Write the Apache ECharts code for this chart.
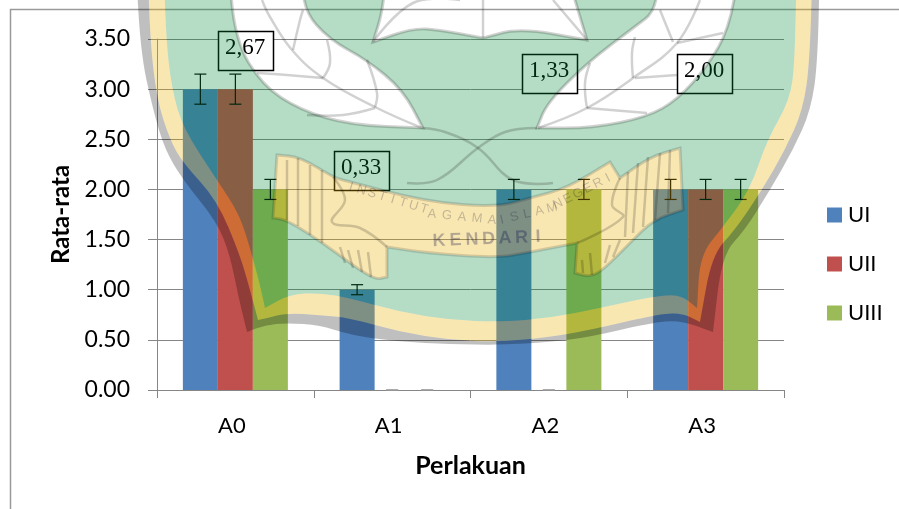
<!DOCTYPE html>
<html>
<head>
<meta charset="utf-8">
<title>Rata-rata</title>
<style>
  html, body { margin: 0; padding: 0; background: #fff; }
  #chart { width: 899px; height: 509px; }
</style>
<script src="https://cdn.jsdelivr.net/npm/echarts@6/dist/echarts.min.js"></script>
</head>
<body>
<div id="chart"></div>
<script>
const categories = ['A0', 'A1', 'A2', 'A3']
const valuesUI = [3, 1, 2, 2]
const valuesUII = [3, 0, 0, 2]
const valuesUIII = [2, 0, 2, 2]
const errorsUI = [0.15, 0.05, 0.1, 0.1]
const errorsUII = [0.15, 0, 0, 0.1]
const errorsUIII = [0.1, 0, 0.1, 0.1]
const seriesNames = ['UI', 'UII', 'UIII']
const noteLabels = ['2,67', '0,33', '1,33', '2,00']

const allValues = [valuesUI, valuesUII, valuesUIII]
const allErrors = [errorsUI, errorsUII, errorsUIII]
const Colors = ['#4F81BD', '#C0504D', '#9BBB59']
const axisGrey = '#868686'

// kotak angka di atas grafik
const notePos = [[218, 31], [334, 151], [522, 54], [677, 54]]
const noteElements = []
noteLabels.forEach((txt, i) => {
  noteElements.push({
    type: 'rect',
    z: 50,
    shape: { x: notePos[i][0] + 0.5, y: notePos[i][1] + 0.5, width: 55, height: 39 },
    style: { fill: '#fff', stroke: '#000', lineWidth: 1.5 }
  })
  noteElements.push({
    type: 'text',
    z: 51,
    x: notePos[i][0] + 27,
    y: notePos[i][1] + 17,
    style: { text: txt, fill: '#000', font: '23px "Liberation Serif"', align: 'center', verticalAlign: 'middle' }
  })
})

// watermark logo: garis tepi dari kiri atas, ke bawah, lalu naik ke kanan
// titik ketiga = 1 artinya sudut tajam
const edgeGreen = [[163, -60, 1], [166, 40], [172, 90], [183, 128], [217, 180], [240, 215], [252, 255], [260, 285], [265, 308, 1],
  [290, 294], [320, 293], [350, 298], [400, 312], [450, 320], [500, 322], [550, 318], [600, 308], [650, 297], [680, 294], [697, 308, 1],
  [700, 255], [723, 227], [750, 190], [767, 140], [790, 100], [795, 60], [797, -60, 1]]
const edgeYellow = [[147, -60, 1], [150, 40], [157, 100], [170, 140], [183, 163], [217, 200], [240, 255], [250, 290], [258, 320, 1],
  [267, 318], [287, 313], [320, 315], [350, 318], [400, 332], [450, 340], [500, 342], [550, 337], [590, 330], [650, 316], [680, 312], [700, 322, 1],
  [712, 255], [735, 230], [762, 190], [785, 150], [803, 110], [810, 60], [813, -60, 1]]
const edgeRim = [[135, -60, 1], [140, 50], [153, 110], [165, 150], [183, 180], [217, 222], [230, 255], [238, 295], [247, 332, 1],
  [265, 325], [287, 323], [320, 325], [350, 335], [400, 342], [450, 344], [500, 345], [550, 342], [590, 337], [650, 323], [680, 320], [713, 332, 1],
  [722, 255], [745, 230], [770, 190], [793, 150], [811, 110], [818, 60], [820, -60, 1]]
const leafLeft = [[228, -40, 1], [235, 40], [262, 85], [300, 110], [350, 125], [423, 128, 1], [403, 90], [367, 60], [330, 40], [303, 10], [302, -40, 1]]
const leafTop = [[373, 42, 1], [383, 10], [387, -40, 1], [563, -40, 1], [580, 17], [587, 40, 1], [520, 28], [483, 38, 1], [440, 30], [413, 28]]
const leafRight = [[537, 128, 1], [547, 103], [587, 63], [633, 28], [657, 10], [658, -40, 1], [740, -40, 1], [730, 27], [707, 67], [677, 100], [647, 117], [593, 128]]
const banner = [[277, 155, 1], [300, 157], [333, 177], [343, 180, 1], [427, 202], [497, 207], [530, 198], [567, 188], [610, 162, 1], [620, 178, 1], [650, 157], [680, 148, 1],
  [683, 210, 1], [653, 220], [630, 243], [603, 270], [590, 277], [575, 273, 1], [577, 243, 1], [530, 252], [497, 258], [427, 253], [387, 247, 1], [387, 277, 1], [373, 280], [323, 243], [287, 220], [273, 218, 1]]
const veins = [
  [[422, 128], [375, 107], [323, 78], [292, 50], [270, 17], [262, 0]],
  [[375, 107], [377, 93], [367, 60]],
  [[375, 108], [343, 115], [307, 115]],
  [[323, 78], [330, 63], [327, 40]],
  [[323, 78], [287, 75], [257, 73]],
  [[293, 50], [300, 20], [303, 10]],
  [[538, 128], [587, 108], [633, 78], [677, 43], [700, 0]],
  [[587, 108], [585, 83], [590, 63]],
  [[587, 108], [647, 113]],
  [[633, 78], [632, 53], [635, 37]],
  [[635, 78], [677, 75]],
  [[677, 43], [723, 33]],
  [[660, 10], [673, 42]],
  [[483, 0], [483, 38]],
  [[587, 40], [553, 0]],
  [[373, 42], [413, 3], [460, 0]],
  [[422, 128], [445, 132], [478, 148], [513, 180], [553, 183]],
  [[537, 128], [505, 132], [478, 148], [437, 180], [407, 183]],
  [[287, 160], [287, 220]], [[298, 158], [298, 226]], [[310, 165], [310, 235]], [[322, 170], [322, 243]],
  [[660, 153], [655, 220]], [[670, 150], [668, 213]], [[648, 157], [643, 227]], [[638, 163], [633, 233]], [[628, 172], [625, 237]],
  [[340, 247], [345, 263]], [[348, 250], [353, 268]], [[358, 250], [362, 272]], [[368, 252], [371, 277]],
  [[590, 253], [592, 275]], [[582, 260], [583, 273]], [[610, 245], [605, 263]], [[620, 240], [613, 257]],
  [[333, 177], [345, 200], [332, 222], [360, 228], [387, 247]],
  [[620, 178], [612, 205], [623, 217], [577, 243]]
]

// path tertutup yang dihaluskan
function closedPath (pts) {
  const mid = (a, b) => [(a[0] + b[0]) / 2, (a[1] + b[1]) / 2]
  const list = []
  pts.forEach(p => {
    list.push(p)
    if (p[2]) list.push(p)
  })
  const start = mid(list[list.length - 1], list[0])
  let d = 'M' + start[0] + ' ' + start[1]
  list.forEach((p, i) => {
    const m = mid(p, list[(i + 1) % list.length])
    d += 'Q' + p[0] + ' ' + p[1] + ' ' + m[0] + ' ' + m[1]
  })
  return d + 'Z'
}
function band (a, b) {
  return closedPath(a.concat(b.slice().reverse()))
}
function logoPath (d, fill, stroke) {
  return {
    type: 'path',
    shape: { pathData: d },
    style: { fill: fill || 'none', stroke: stroke || 'none', lineWidth: 3 }
  }
}
// tulisan melengkung, per huruf
function curvedWord (word, x0, y0, x1, y1, size, weight, color) {
  const angle = Math.atan2(y0 - y1, x1 - x0)
  return word.split('').map((c, i) => {
    const t = word.length > 1 ? i / (word.length - 1) : 0
    return {
      type: 'text',
      x: x0 + (x1 - x0) * t,
      y: y0 + (y1 - y0) * t,
      rotation: angle,
      style: {
        text: c,
        fill: color,
        font: weight + ' ' + size + 'px "Liberation Sans"',
        align: 'center',
        verticalAlign: 'middle'
      }
    }
  })
}

const holes = closedPath(leafLeft.slice().reverse()) + closedPath(leafTop) + closedPath(leafRight) + closedPath(banner)
const logoChildren = [
  logoPath(band(edgeGreen, edgeYellow), 'rgba(235,175,0,0.3)'),
  logoPath(band(edgeYellow, edgeRim), 'rgba(0,0,0,0.25)'),
  logoPath(closedPath(edgeGreen) + holes, 'rgba(0,134,50,0.29)'),
  logoPath(closedPath(banner), 'rgba(235,175,0,0.3)', 'rgba(0,0,0,0.14)'),
  logoPath(closedPath(leafLeft), null, 'rgba(0,0,0,0.18)'),
  logoPath(closedPath(leafTop), null, 'rgba(0,0,0,0.18)'),
  logoPath(closedPath(leafRight), null, 'rgba(0,0,0,0.18)')
].concat(veins.map(v => ({
  type: 'polyline',
  shape: { points: v, smooth: 0.4 },
  style: { fill: 'none', stroke: 'rgba(0,0,0,0.18)', lineWidth: 2.5 }
})),
curvedWord('INSTITUT', 351, 187, 424, 209, 13, 'normal', 'rgba(0,0,40,0.22)'),
curvedWord('AGAMA', 432, 214, 492, 220, 13, 'normal', 'rgba(0,0,40,0.22)'),
curvedWord('ISLAM', 502, 220, 552, 208, 13, 'normal', 'rgba(0,0,40,0.22)'),
curvedWord('NEGERI', 558, 204, 608, 178, 13, 'normal', 'rgba(0,0,40,0.22)'),
curvedWord('KENDARI', 439, 241, 538, 237, 18, 'bold', 'rgba(0,0,60,0.28)'))

// bingkai luar
const frame = {
  type: 'polyline',
  z: 1,
  shape: { points: [[10.5, 509], [10.5, 9.5], [899, 9.5]] },
  style: { fill: null, stroke: '#9a9a9a', lineWidth: 1.5 }
}

const barSeries = seriesNames.map((name, i) => ({
  name: name,
  type: 'bar',
  data: allValues[i],
  barGap: 0,
  barCategoryGap: '33%',
  itemStyle: { color: Colors[i] }
}))

// error bar digambar lewat custom series
const errorSeries = seriesNames.map((name, s) => ({
  name: name + ' error',
  type: 'custom',
  z: 5,
  silent: true,
  data: categories.map((c, i) => [i, allValues[s][i], allErrors[s][i]]),
  renderItem: (params, api) => {
    const idx = api.value(0)
    const val = api.value(1)
    const err = api.value(2)
    const barW = api.size([1, 0])[0] * 0.67 / 3
    const center = api.coord([idx, val])
    const x = center[0] + (s - 1) * barW
    const top = api.coord([idx, val + err])[1]
    const bottom = api.coord([idx, val - err])[1]
    const color = err === 0 ? '#999' : '#000'
    const capW = 6
    const line = (x1, y1, x2, y2) => ({
      type: 'line',
      shape: { x1: x1, y1: y1, x2: x2, y2: y2 },
      style: { stroke: color, lineWidth: 1.2 }
    })
    return {
      type: 'group',
      children: [
        line(x, top, x, bottom),
        line(x - capW, top, x + capW, top),
        line(x - capW, bottom, x + capW, bottom)
      ]
    }
  }
}))

// watermark menutupi seluruh grafik
const logoSeries = {
  name: 'logo',
  type: 'custom',
  coordinateSystem: 'none',
  z: 100,
  silent: true,
  data: [0],
  renderItem: () => ({ type: 'group', children: logoChildren })
}

const option = {
  animation: false,
  backgroundColor: '#fff',
  textStyle: { fontFamily: 'Lato' },
  grid: { left: 157, right: 115, top: 39, height: 351 },
  legend: {
    orient: 'vertical',
    left: 822,
    top: 199,
    data: seriesNames,
    icon: 'rect',
    itemWidth: 15,
    itemHeight: 15,
    itemGap: 27,
    textStyle: { fontSize: 22, color: '#000', fontFamily: 'Lato', padding: [0, 0, 0, 1] }
  },
  xAxis: {
    type: 'category',
    data: categories,
    name: 'Perlakuan',
    nameLocation: 'middle',
    nameGap: 63,
    nameTextStyle: { fontSize: 25, fontWeight: 'bold', color: '#000', fontFamily: 'Lato' },
    axisLine: { lineStyle: { color: axisGrey, width: 1 } },
    axisTick: { show: true, length: 8, lineStyle: { color: axisGrey } },
    axisLabel: { fontSize: 22, color: '#000', margin: 25, padding: [0, 7, 0, 0] }
  },
  yAxis: {
    type: 'value',
    min: 0,
    max: 3.5,
    interval: 0.5,
    name: 'Rata-rata',
    nameLocation: 'middle',
    nameGap: 83,
    nameTextStyle: { fontSize: 24, fontWeight: 'bold', color: '#000', fontFamily: 'Lato' },
    axisLine: { show: true, lineStyle: { color: axisGrey, width: 1 } },
    axisTick: { show: true, length: 9, lineStyle: { color: axisGrey } },
    axisLabel: { fontSize: 23, color: '#000', margin: 27, formatter: v => v.toFixed(2) },
    splitLine: { show: true, lineStyle: { color: axisGrey, width: 1 } }
  },
  graphic: { elements: [frame].concat(noteElements) },
  series: barSeries.concat(errorSeries, [logoSeries])
}

const myChart = echarts.init(document.getElementById('chart'))
myChart.setOption(option)
</script>
</body>
</html>
